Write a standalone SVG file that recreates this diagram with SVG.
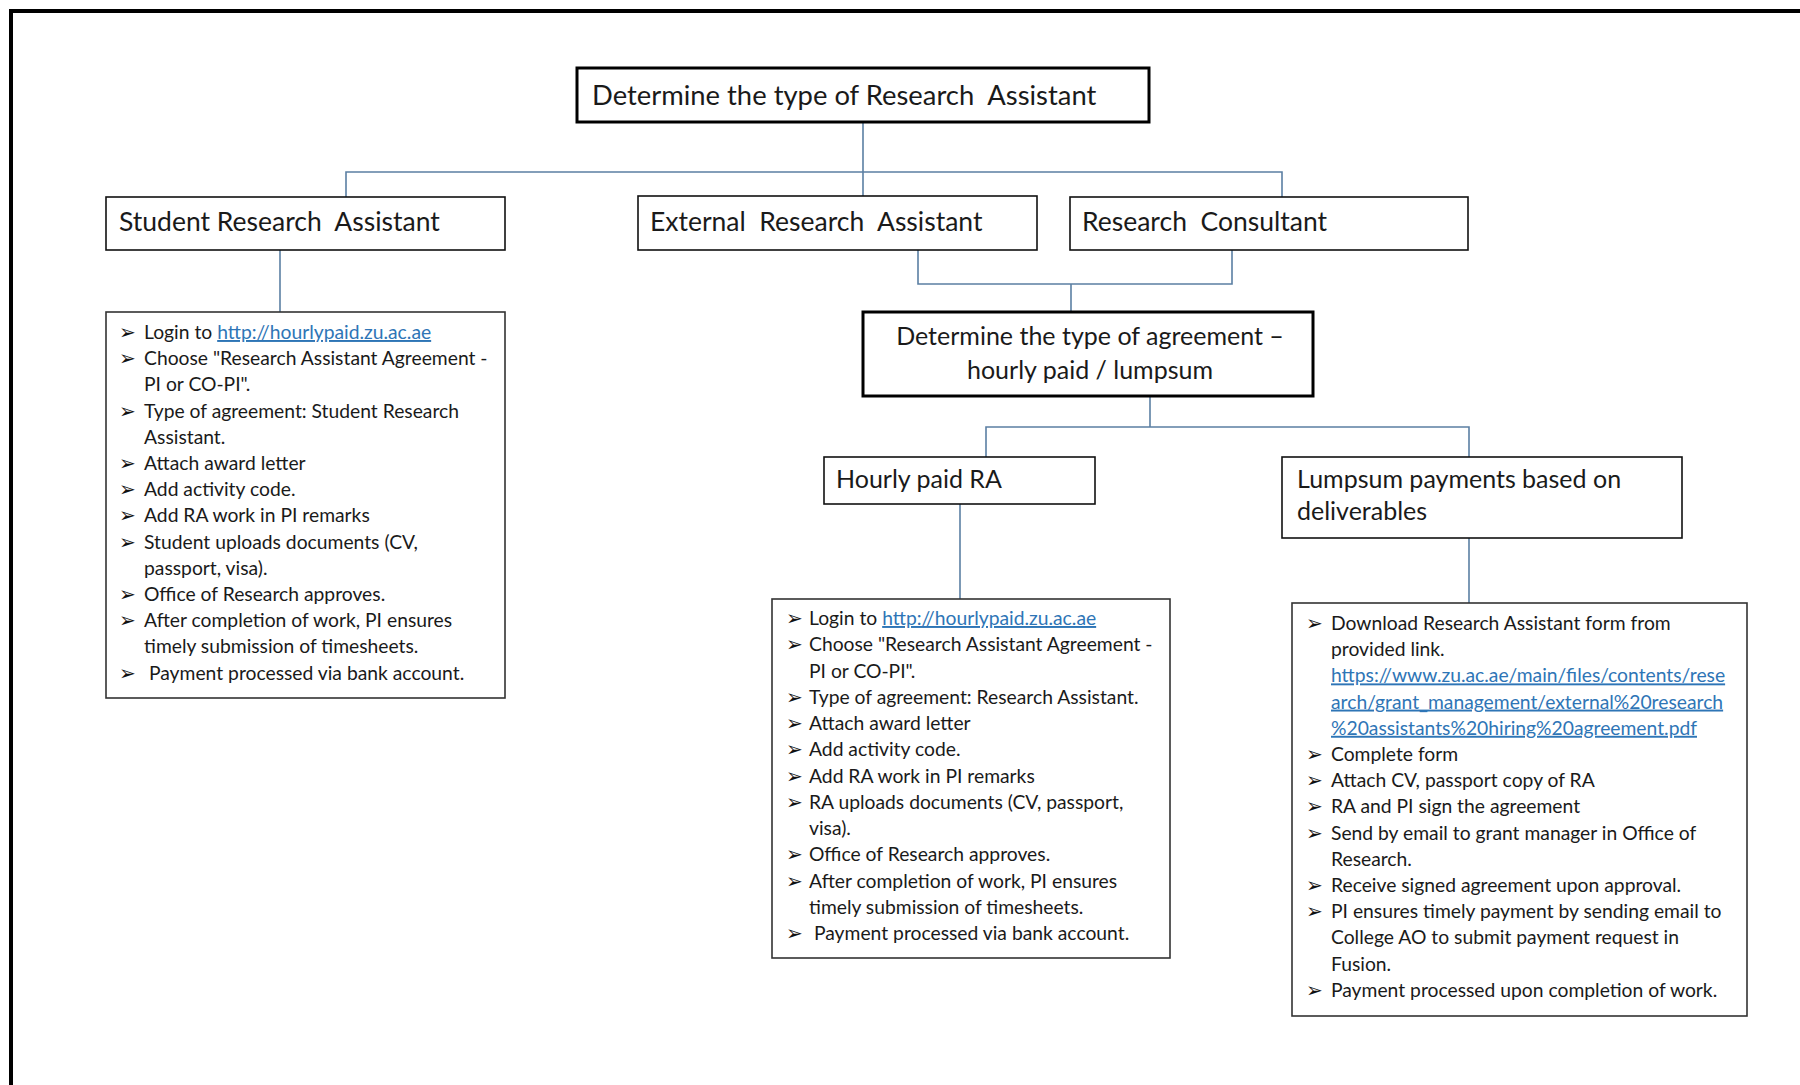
<svg xmlns="http://www.w3.org/2000/svg" width="1800" height="1085" viewBox="0 0 1800 1085">
<style>
  .frame { fill: none; stroke: #000; stroke-width: 4; }
  .box { fill: #fff; stroke: #111; stroke-width: 1.6; }
  .boxb { fill: #fff; stroke: #000; stroke-width: 3; }
  .lbox { fill: #fff; stroke: #333; stroke-width: 1.6; }
  .conn { fill: none; stroke: #5b7fa3; stroke-width: 1.6; }
  .h { font-family: Lato, "Liberation Sans", sans-serif; font-size: 25px; fill: #1a1a1a; }
  .h1 { font-family: Lato, "Liberation Sans", sans-serif; font-size: 27.4px; fill: #1a1a1a; }
  .h2 { font-family: Lato, "Liberation Sans", sans-serif; font-size: 26.5px; fill: #1a1a1a; }
  .li { font-family: Lato, "Liberation Sans", sans-serif; font-size: 19.3px; fill: #1a1a1a; }
  .bul { font-family: "DejaVu Sans", sans-serif; font-size: 20px; fill: #111; }
  .link { fill: #2e75b6; text-decoration: underline; }
</style>
<rect width="1800" height="1085" fill="#fff"/>
<path class="frame" d="M11 1085 V11 H1800"/>

<g id="connectors">
  <path class="conn" d="M863 122 V196"/>
  <path class="conn" d="M346 197 V172 H1282 V197"/>
  <path class="conn" d="M280 250 V312"/>
  <path class="conn" d="M918 250 V284 H1232 V250"/>
  <path class="conn" d="M1071 284 V312"/>
  <path class="conn" d="M1150 396 V427"/>
  <path class="conn" d="M986 457 V427 H1469 V457"/>
  <path class="conn" d="M960 504 V599"/>
  <path class="conn" d="M1469 538 V603"/>
</g>

<g id="node-top">
  <rect class="boxb" x="577" y="68" width="572" height="54"/>
  <text class="h1" x="592" y="105" xml:space="preserve">Determine the type of Research  Assistant</text>
</g>

<g id="node-student">
  <rect class="box" x="106" y="197" width="399" height="53"/>
  <text class="h2" x="119" y="231" xml:space="preserve">Student Research  Assistant</text>
</g>

<g id="node-external">
  <rect class="box" x="638" y="196" width="399" height="54"/>
  <text class="h2" x="650" y="231" xml:space="preserve">External  Research  Assistant</text>
</g>

<g id="node-consultant">
  <rect class="box" x="1070" y="197" width="398" height="53"/>
  <text class="h2" x="1082" y="231" xml:space="preserve">Research  Consultant</text>
</g>

<g id="node-agreement">
  <rect class="boxb" x="863" y="312" width="450" height="84"/>
  <text class="h" x="1090" y="345" text-anchor="middle">Determine the type of agreement –</text>
  <text class="h" x="1090" y="379" text-anchor="middle">hourly paid / lumpsum</text>
</g>

<g id="node-hourly">
  <rect class="box" x="824" y="457" width="271" height="47"/>
  <text class="h" x="836" y="488">Hourly paid RA</text>
</g>

<g id="node-lumpsum">
  <rect class="box" x="1282" y="457" width="400" height="81"/>
  <text class="h" x="1297" y="488">Lumpsum payments based on</text>
  <text class="h" x="1297" y="520">deliverables</text>
</g>

<g id="node-student-steps">
  <rect class="lbox" x="106" y="312" width="399" height="386"/>
  <g class="bul">
    <text x="119" y="339">➢</text>
    <text x="119" y="365.2">➢</text>
    <text x="119" y="417.6">➢</text>
    <text x="119" y="470">➢</text>
    <text x="119" y="496.2">➢</text>
    <text x="119" y="522.4">➢</text>
    <text x="119" y="548.6">➢</text>
    <text x="119" y="601">➢</text>
    <text x="119" y="627.2">➢</text>
    <text x="119" y="679.6">➢</text>
  </g>
  <g class="li">
    <text x="144" y="339">Login to <tspan class="link">http://hourlypaid.zu.ac.ae</tspan></text>
    <text x="144" y="365.2">Choose "Research Assistant Agreement -</text>
    <text x="144" y="391.4">PI or CO-PI".</text>
    <text x="144" y="417.6">Type of agreement: Student Research</text>
    <text x="144" y="443.8">Assistant.</text>
    <text x="144" y="470">Attach award letter</text>
    <text x="144" y="496.2">Add activity code.</text>
    <text x="144" y="522.4">Add RA work in PI remarks</text>
    <text x="144" y="548.6">Student uploads documents (CV,</text>
    <text x="144" y="574.8">passport, visa).</text>
    <text x="144" y="601">Office of Research approves.</text>
    <text x="144" y="627.2">After completion of work, PI ensures</text>
    <text x="144" y="653.4">timely submission of timesheets.</text>
    <text x="149" y="679.6">Payment processed via bank account.</text>
  </g>
</g>

<g id="node-hourly-steps">
  <rect class="lbox" x="772" y="599" width="398" height="359"/>
  <g class="bul">
    <text x="786" y="625">➢</text>
    <text x="786" y="651.25">➢</text>
    <text x="786" y="703.75">➢</text>
    <text x="786" y="730">➢</text>
    <text x="786" y="756.25">➢</text>
    <text x="786" y="782.5">➢</text>
    <text x="786" y="808.75">➢</text>
    <text x="786" y="861.25">➢</text>
    <text x="786" y="887.5">➢</text>
    <text x="786" y="940">➢</text>
  </g>
  <g class="li">
    <text x="809" y="625">Login to <tspan class="link">http://hourlypaid.zu.ac.ae</tspan></text>
    <text x="809" y="651.25">Choose "Research Assistant Agreement -</text>
    <text x="809" y="677.5">PI or CO-PI".</text>
    <text x="809" y="703.75">Type of agreement: Research Assistant.</text>
    <text x="809" y="730">Attach award letter</text>
    <text x="809" y="756.25">Add activity code.</text>
    <text x="809" y="782.5">Add RA work in PI remarks</text>
    <text x="809" y="808.75">RA uploads documents (CV, passport,</text>
    <text x="809" y="835">visa).</text>
    <text x="809" y="861.25">Office of Research approves.</text>
    <text x="809" y="887.5">After completion of work, PI ensures</text>
    <text x="809" y="913.75">timely submission of timesheets.</text>
    <text x="814" y="940">Payment processed via bank account.</text>
  </g>
</g>

<g id="node-lumpsum-steps">
  <rect class="lbox" x="1292" y="603" width="455" height="413"/>
  <g class="bul">
    <text x="1306" y="630">➢</text>
    <text x="1306" y="761">➢</text>
    <text x="1306" y="787.2">➢</text>
    <text x="1306" y="813.4">➢</text>
    <text x="1306" y="839.6">➢</text>
    <text x="1306" y="892">➢</text>
    <text x="1306" y="918.2">➢</text>
    <text x="1306" y="997">➢</text>
  </g>
  <g class="li">
    <text x="1331" y="630">Download Research Assistant form from</text>
    <text x="1331" y="656.2">provided link.</text>
    <text x="1331" y="682.4" class="link">https://www.zu.ac.ae/main/files/contents/rese</text>
    <text x="1331" y="708.6" class="link">arch/grant_management/external%20research</text>
    <text x="1331" y="734.8" class="link">%20assistants%20hiring%20agreement.pdf</text>
    <text x="1331" y="761">Complete form</text>
    <text x="1331" y="787.2">Attach CV, passport copy of RA</text>
    <text x="1331" y="813.4">RA and PI sign the agreement</text>
    <text x="1331" y="839.6">Send by email to grant manager in Office of</text>
    <text x="1331" y="865.8">Research.</text>
    <text x="1331" y="892">Receive signed agreement upon approval.</text>
    <text x="1331" y="918.2">PI ensures timely payment by sending email to</text>
    <text x="1331" y="944.4">College AO to submit payment request in</text>
    <text x="1331" y="970.6">Fusion.</text>
    <text x="1331" y="997">Payment processed upon completion of work.</text>
  </g>
</g>
</svg>
